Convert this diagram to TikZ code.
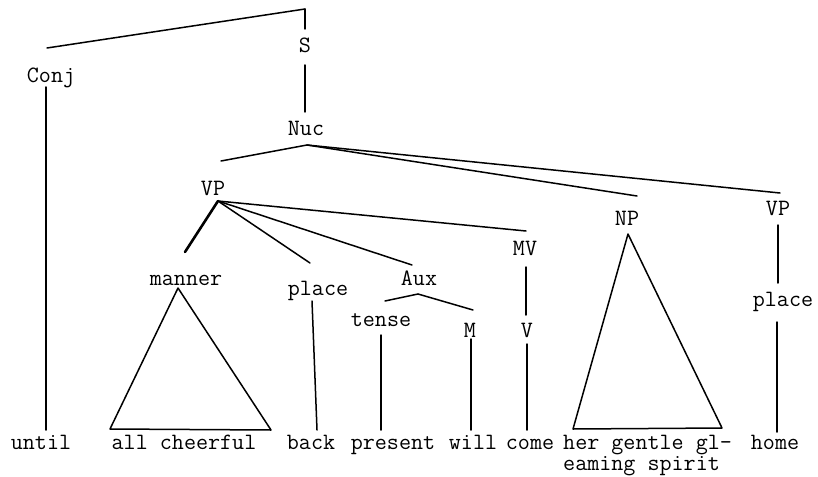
\documentclass[tikz,border=0pt]{standalone}
\usepackage{fontspec}
\begin{document}
\begin{tikzpicture}[x=1pt,y=-1pt,
  lab/.style={font=\ttfamily\fontsize{23.4}{19}\selectfont, inner sep=0pt, anchor=base},
  br/.style={line width=1.5pt, line cap=round, line join=round},
  thickbr/.style={line width=2.6pt, line cap=round}]
\useasboundingbox (0,0) rectangle (818,476);
% labels
\node[lab] (S) at (305,53) {S};
\node[lab] (Conj) at (51,83) {Conj};
\node[lab] (Nuc) at (306,135) {Nuc};
\node[lab] (VPa) at (213,195) {VP};
\node[lab] (NP) at (627,225) {NP};
\node[lab] (VPb) at (778,215) {VP};
\node[lab] (manner) at (186,285) {manner};
\node[lab] (placea) at (318,295) {place};
\node[lab] (Aux) at (419,285) {Aux};
\node[lab] (MV) at (525,255) {MV};
\node[lab] (tense) at (381,326) {tense};
\node[lab] (M) at (470,337) {M};
\node[lab] (V) at (527,337) {V};
\node[lab] (placeb) at (783,306) {place};
% leaves
\node[lab] (until) at (41,449) {until};
\node[lab] (cheerful) at (184,449) {all cheerful};
\node[lab] (back) at (311,449) {back};
\node[lab] (present) at (393,449) {present};
\node[lab] (will) at (473,449) {will};
\node[lab] (come) at (530,449) {come};
\node[lab, font=\ttfamily\fontsize{23.4}{21}\selectfont, anchor=base west, align=left] (spirit) at (563,470) {her gentle gl-\\eaming spirit};
\node[lab] (home) at (775,449) {home};
% junctions and line ends
\coordinate (top) at (305,9);
\coordinate (S-in) at (305,29);
\coordinate (S-out) at (305,65);
\coordinate (Conj-in) at (47,48);
\coordinate (Conj-out) at (46,87);
\coordinate (until-in) at (46,430);
\coordinate (Nuc-in) at (305,112);
\coordinate (Nuc-out) at (307,145);
\coordinate (VPa-in) at (221,161);
\coordinate (NP-in) at (637,196);
\coordinate (VPb-in) at (780,193);
\coordinate (VPa-out) at (218,201);
\coordinate (manner-in) at (185,252);
\coordinate (placea-in) at (310,263);
\coordinate (Aux-in) at (412,265);
\coordinate (MV-in) at (526,231);
\coordinate (manner-apex) at (178,288);
\coordinate (cheerful-l) at (110,429);
\coordinate (cheerful-r) at (271,430);
\coordinate (placea-out) at (312,301);
\coordinate (back-in) at (317,430);
\coordinate (Aux-out) at (418,294);
\coordinate (tense-in) at (385,301);
\coordinate (M-in) at (473,310);
\coordinate (tense-out) at (381,335);
\coordinate (present-in) at (381,430);
\coordinate (M-out) at (471,339);
\coordinate (will-in) at (471,430);
\coordinate (MV-out) at (526,267);
\coordinate (V-in) at (526,315);
\coordinate (V-out) at (527,344);
\coordinate (come-in) at (527,430);
\coordinate (NP-apex) at (628,234);
\coordinate (spirit-l) at (573,429);
\coordinate (spirit-r) at (722,428);
\coordinate (VPb-out) at (778,225);
\coordinate (placeb-in) at (778,283);
\coordinate (placeb-out) at (777,322);
\coordinate (home-in) at (777,432);
% branches
\draw[br] (top) -- (S-in);
\draw[br] (top) -- (Conj-in);
\draw[br] (S-out) -- (Nuc-in);
\draw[br] (Conj-out) -- (until-in);
\draw[br] (Nuc-out) -- (VPa-in);
\draw[br] (Nuc-out) -- (NP-in);
\draw[br] (Nuc-out) -- (VPb-in);
\draw[thickbr] (VPa-out) -- (manner-in);
\draw[br] (VPa-out) -- (placea-in);
\draw[br] (VPa-out) -- (Aux-in);
\draw[br] (VPa-out) -- (MV-in);
\draw[br] (manner-apex) -- (cheerful-l) -- (cheerful-r) -- cycle;
\draw[br] (placea-out) -- (back-in);
\draw[br] (Aux-out) -- (tense-in);
\draw[br] (Aux-out) -- (M-in);
\draw[br] (tense-out) -- (present-in);
\draw[br] (M-out) -- (will-in);
\draw[br] (MV-out) -- (V-in);
\draw[br] (V-out) -- (come-in);
\draw[br] (NP-apex) -- (spirit-l) -- (spirit-r) -- cycle;
\draw[br] (VPb-out) -- (placeb-in);
\draw[br] (placeb-out) -- (home-in);
\end{tikzpicture}
\end{document}
